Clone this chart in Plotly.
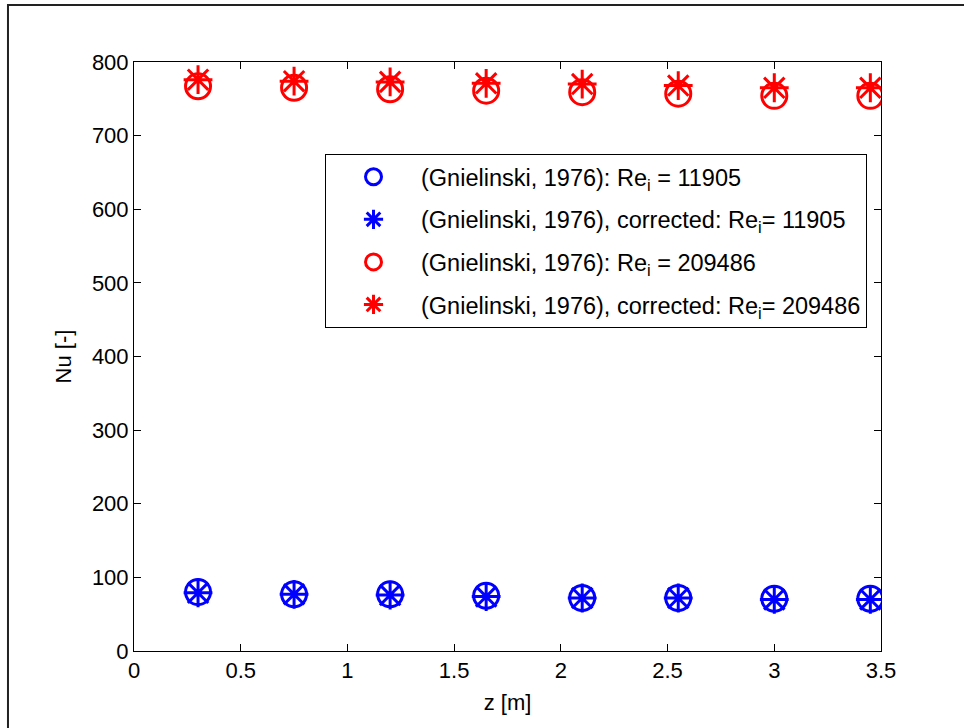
import plotly.graph_objects as go

z = [0.3, 0.75, 1.2, 1.65, 2.1, 2.55, 3.0, 3.45]
nu_low = [80, 77, 77, 75, 72, 72, 71, 71]
nu_low_corr = [79, 77, 76, 74, 72, 72, 70, 70]
nu_high = [767, 765, 763, 761, 759, 757, 754, 754]
nu_high_corr = [776, 774, 773, 771, 770, 768, 765, 765]

names = [
    "(Gnielinski, 1976): Re<sub>i</sub> = 11905",
    "(Gnielinski, 1976), corrected: Re<sub>i</sub>= 11905",
    "(Gnielinski, 1976): Re<sub>i</sub> = 209486",
    "(Gnielinski, 1976), corrected: Re<sub>i</sub>= 209486",
]
series = [nu_low, nu_low_corr, nu_high, nu_high_corr]
colors = ["#0000ff", "#0000ff", "#ff0000", "#ff0000"]
symbols = ["circle-open", "asterisk-open", "circle-open", "asterisk-open"]
sizes = [25, 24, 25, 24]

FONT = "Liberation Sans, Arial, sans-serif"

fig = go.Figure()
for i in range(4):
    fig.add_trace(go.Scatter(
        x=z, y=series[i], mode="markers", name=names[i],
        legendgroup=f"g{i}",
        marker=dict(symbol=symbols[i], size=sizes[i], color=colors[i],
                    line=dict(color=colors[i], width=3)),
    ))

axis_common = dict(
    showline=True, linecolor="black", linewidth=1, mirror="ticks",
    ticks="inside", ticklen=7, tickcolor="black", showgrid=False,
    zeroline=False, tickfont=dict(family=FONT, size=22, color="black"),
)

fig.update_layout(
    width=964, height=728,
    margin=dict(l=134, r=83, t=62, b=77),
    paper_bgcolor="white", plot_bgcolor="white",
    font=dict(family=FONT, size=22, color="black"),
    xaxis=dict(range=[0, 3.5], dtick=0.5, title=dict(text="z [m]", standoff=12,
               font=dict(family=FONT, size=22)), **axis_common),
    yaxis=dict(range=[0, 800], dtick=100, title=dict(text="Nu [-]", standoff=14,
               font=dict(family=FONT, size=22)), **axis_common),
    legend=dict(x=0.2557, y=0.8438, xanchor="left", yanchor="top",
                bgcolor="white", bordercolor="black", borderwidth=1,
                font=dict(family=FONT, size=23.5, color="black"),
                tracegroupgap=9, itemwidth=85),
    showlegend=True,
    shapes=[dict(type="rect", xref="paper", yref="paper",
                 x0=-0.1687, x1=1.13, y0=-0.15, y1=1.0968,
                 line=dict(color="#222222", width=2), layer="below")],
)

fig.write_html("out.html")
